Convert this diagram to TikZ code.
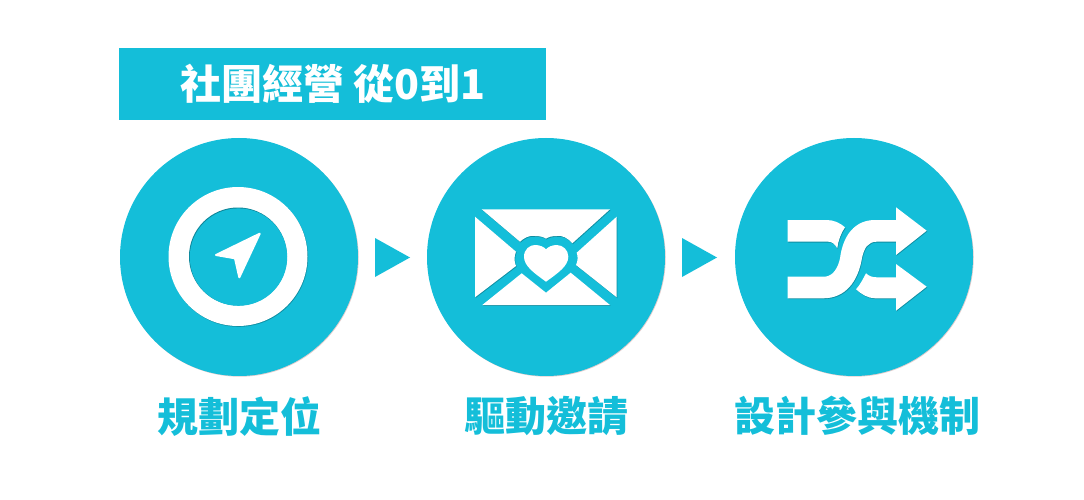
\documentclass[tikz,border=0pt]{standalone}
\usepackage{fontspec}
\usetikzlibrary{positioning, shadows}
\newfontfamily\cjk{Noto Sans CJK TC}
\definecolor{teal1}{HTML}{14BED9}

\begin{document}
\begin{tikzpicture}[
            x=1pt, y=-1pt,
            disc/.style={circle, fill=teal1, minimum size=238pt, inner sep=0pt, outer sep=0pt, drop shadow={shadow xshift=0.7pt, shadow yshift=-0.7pt, fill=black!60!red, opacity=0.2}},
            titlebox/.style={rectangle, fill=teal1, minimum width=427pt, minimum height=72pt, inner sep=0pt, text=white, font=\cjk\bfseries\fontsize{41}{48}\selectfont},
            steplabel/.style={text=teal1, inner sep=0pt, font=\cjk\bfseries\fontsize{41}{48}\selectfont},
            icon/.style={fill=white, drop shadow={shadow xshift=0.6pt, shadow yshift=-0.8pt, fill=black, opacity=0.25}},
            pointer/.style={fill=teal1}
        ]

            \useasboundingbox (0,0) rectangle (1084,500);

            \node[titlebox] (T) at (332.7,84.2) {社團經營 從0到1};

            \node[disc] (C1) at (239,257) {};
            \node[steplabel, below=20pt of C1] (L1) {規劃定位};

            \node[disc] (C2) at (546,257) {};
            \node[steplabel, below=20pt of C2] (L2) {驅動邀請};

            \node[disc] (C3) at (854,257) {};
            \node[steplabel, below=20pt of C3, xshift=3pt] (L3) {設計參與機制};

            \fill[pointer] (375,238) -- (410,257.5) -- (375,277) -- cycle;
            \fill[pointer] (682,238) -- (717,257.5) -- (682,277) -- cycle;

            % compass
            \fill[icon] (238,256.5) circle (69.5);
            \fill[teal1!70!black] (238,256.5) circle (49);
            \fill[teal1] (238.5,257.1) circle (48.7);
            \fill[white, line join=round, draw=white, line width=2pt] (259.7,233.7) -- (216,255) -- (235,258.3) -- (239.3,277.3) -- cycle;

            % envelope
            \fill[icon] (481.7,209.3) -- (610,209.3) -- (572.3,243.3) .. controls (568,238) and (562,235) .. (556.7,236) .. controls (552,236) and (548,237) .. (546,238.7) .. controls (544,237) and (540,236) .. (535,236) .. controls (529,235) and (524,238) .. (520,241.7) -- cycle;
            \fill[icon] (475,216.7) -- (516,251.7) .. controls (514,256) and (514,262) .. (516,266) -- (475,297.3) -- cycle;
            \fill[icon] (616.7,216.7) -- (616.7,297.3) -- (576,265) .. controls (578,261) and (578,256) .. (576.7,252.7) -- cycle;
            \fill[icon] (482.3,305) -- (610,305) -- (570.7,272.7) -- (546,292.7) -- (521.7,273.3) -- cycle;
            \fill[white] (546,281.7) .. controls (534,273) and (524,266) .. (524,256.7) .. controls (524,249) and (530,245) .. (535,245) .. controls (540,245) and (544,247) .. (546,249.3) .. controls (548,247) and (552,245) .. (556.7,245) .. controls (563,245) and (568.3,250) .. (568.3,256.7) .. controls (568.3,266) and (558,273) .. (546,281.7) -- cycle;

            % shuffle
            \fill[icon] (787.7,220) -- (826.7,220) .. controls (834,220) and (840,223) .. (845,227.3) .. controls (841,233) and (838,241) .. (837.3,248.3) .. controls (835,244) and (832,241.7) .. (828.3,241.7) -- (787.7,241.7) -- cycle;
            \fill[icon] (787.7,276.7) -- (825,276.7) .. controls (833,276) and (838,268) .. (840,258.3) .. controls (843,235) and (855,220) .. (875,220) -- (896,220) -- (896,207.3) -- (926.7,230.7) -- (896,255) -- (896,241.7) -- (876.7,241.7) .. controls (868,241.7) and (864,248) .. (862,258) .. controls (858,282) and (845,298.3) .. (823.3,298.3) -- (787.7,298.3) -- cycle;
            \fill[icon] (866,273.3) .. controls (869,276) and (872,277.3) .. (876.7,277.3) -- (896,277.3) -- (896,264) -- (926.7,286.7) -- (896,310.7) -- (896,298.3) -- (875,298.3) .. controls (868,298.3) and (861,294) .. (856,289.3) .. controls (860,285) and (863,279) .. (866,273.3) -- cycle;

        \end{tikzpicture}
\end{document}
